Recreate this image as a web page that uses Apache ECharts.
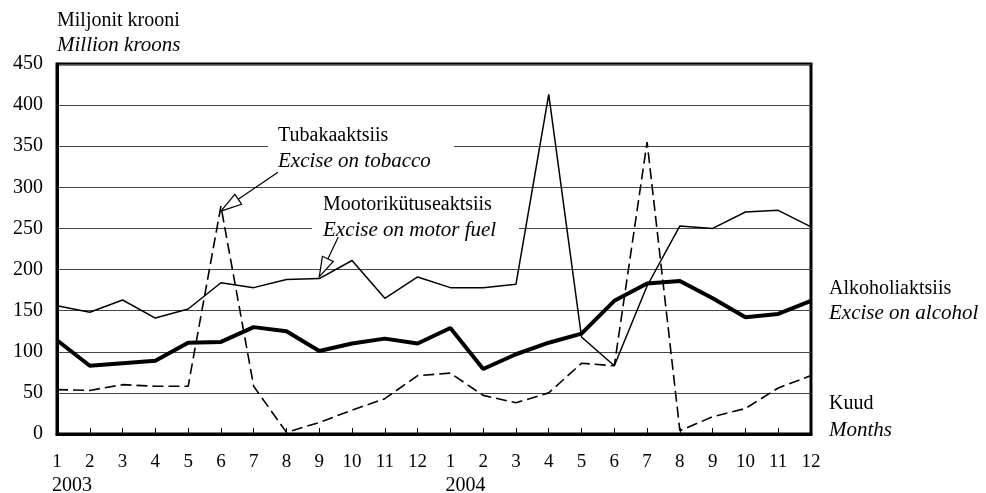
<!DOCTYPE html>
<html>
<head>
<meta charset="utf-8">
<script src="https://cdn.jsdelivr.net/npm/echarts@6/dist/echarts.min.js"></script>
<style>
html,body{margin:0;padding:0;background:#fff;}
#chart{width:986px;height:493px;}
</style>
</head>
<body>
<div id="chart"></div>
<script>
// Categories: months Jan 2003 .. Dec 2004
const categories = ['2003-1','2003-2','2003-3','2003-4','2003-5','2003-6','2003-7','2003-8','2003-9','2003-10','2003-11','2003-12',
                    '2004-1','2004-2','2004-3','2004-4','2004-5','2004-6','2004-7','2004-8','2004-9','2004-10','2004-11','2004-12'];
const monthLabels = ['1','2','3','4','5','6','7','8','9','10','11','12','1','2','3','4','5','6','7','8','9','10','11','12'];
const yearLabels = [{index: 0, text: '2003'}, {index: 12, text: '2004'}];
const yTicks = [0, 50, 100, 150, 200, 250, 300, 350, 400, 450];

// Million kroons
const motorFuel = [156, 148, 163, 141, 152, 184, 178, 188, 189, 211, 165, 191,
                   178, 178, 182, 413, 118, 83, 180, 253, 250, 270, 272, 252];
const alcohol   = [114, 83, 86, 89, 111, 112, 130, 125, 101, 110, 116, 110,
                   129, 79, 97, 111, 122, 162, 183, 186, 165, 142, 146, 162];
const tobacco   = [54, 53, 60, 58, 58, 277, 58, 2, 14, 29, 43, 71,
                   74, 47, 38, 50, 86, 83, 355, 4, 21, 31, 56, 71];

const FONT = "'Liberation Serif', 'Times New Roman', serif";
const chart = echarts.init(document.getElementById('chart'));

chart.setOption({
  animation: false,
  backgroundColor: '#fff',
  grid: {left: 57, right: 175, top: 64, bottom: 59, show: true, borderColor: '#000', borderWidth: 3, backgroundColor: 'transparent'},
  xAxis: {
    type: 'category', data: categories, boundaryGap: false,
    axisLine: {lineStyle: {color: '#000', width: 3}},
    axisTick: {show: true, inside: true, length: 6, lineStyle: {color: '#000', width: 1}},
    axisLabel: {
      interval: 0, margin: 19, color: '#000', fontFamily: FONT, fontSize: 19,
      formatter: function (v, i) { return monthLabels[i]; }
    },
    splitLine: {show: false}
  },
  yAxis: {
    type: 'value', min: yTicks[0], max: yTicks[yTicks.length - 1], interval: 50,
    axisLine: {show: true, lineStyle: {color: '#000', width: 3}},
    axisTick: {show: false},
    axisLabel: {margin: 14, color: '#000', fontFamily: FONT, fontSize: 20},
    splitLine: {show: true, lineStyle: {color: '#444', width: 1}}
  },
  series: [
    {name: 'Mootorikütuseaktsiis', type: 'line', data: motorFuel, symbol: 'none', z: 3,
     lineStyle: {color: '#000', width: 1.5}},
    {name: 'Alkoholiaktsiis', type: 'line', data: alcohol, symbol: 'none', z: 4,
     lineStyle: {color: '#000', width: 4}},
    {name: 'Tubakaaktsiis', type: 'line', data: tobacco, symbol: 'none', z: 3,
     lineStyle: {color: '#000', width: 1.6, type: [11, 5]}}
  ]
});

function px(idx, val) { return chart.convertToPixel({xAxisIndex: 0, yAxisIndex: 0}, [idx, val]); }

function arrow(tail, tip, headLen, headW) {
  const dx = tip[0] - tail[0], dy = tip[1] - tail[1];
  const L = Math.sqrt(dx * dx + dy * dy);
  const ux = dx / L, uy = dy / L;
  const bx = tip[0] - ux * headLen, by = tip[1] - uy * headLen;
  const nx = -uy * headW / 2, ny = ux * headW / 2;
  return [
    {type: 'polyline', z: 20, shape: {points: [tail, [bx, by]]}, style: {stroke: '#000', lineWidth: 1.2, fill: null}},
    {type: 'polygon', z: 21, shape: {points: [tip, [bx + nx, by + ny], [bx - nx, by - ny]]},
     style: {fill: '#fff', stroke: '#000', lineWidth: 1.2}}
  ];
}

function txt(x, y, s, italic, align) {
  return {type: 'text', z: 30, x: x, y: y,
    style: {text: s, fill: '#000', font: (italic ? 'italic 21px ' : '20px ') + FONT,
            textAlign: align || 'left', textVerticalAlign: 'middle'}};
}

const g = [];
// title
g.push(txt(57, 21, 'Miljonit krooni', false));
g.push(txt(57, 45, 'Million kroons', true));
// annotation backgrounds
g.push({type: 'rect', z: 1, shape: {x: 268, y: 125, width: 186, height: 47}, style: {fill: '#fff'}});
g.push({type: 'rect', z: 1, shape: {x: 312, y: 194, width: 207, height: 44}, style: {fill: '#fff'}});
g.push(txt(278, 136, 'Tubakaaktsiis', false));
g.push(txt(278, 161, 'Excise on tobacco', true));
g.push(txt(323, 205, 'Mootorikütuseaktsiis', false));
g.push(txt(323, 230, 'Excise on motor fuel', true));
// arrows
const tobTip = px(5, 271);
arrow([tobTip[0] + 57, tobTip[1] - 39], tobTip, 21, 12).forEach(e => g.push(e));
const motTip = px(7.65, 191);
arrow([motTip[0] + 19, motTip[1] - 40], motTip, 20, 12).forEach(e => g.push(e));
// right-side labels
g.push(txt(829, 289, 'Alkoholiaktsiis', false));
g.push(txt(829, 313, 'Excise on alcohol', true));
g.push(txt(829, 404, 'Kuud', false));
g.push(txt(829, 430, 'Months', true));
// year labels
yearLabels.forEach(function (y) {
  const p = px(y.index, 0);
  g.push(txt(p[0] - 5, 486, y.text, false));
});

chart.setOption({graphic: {elements: g}});
</script>
</body>
</html>
